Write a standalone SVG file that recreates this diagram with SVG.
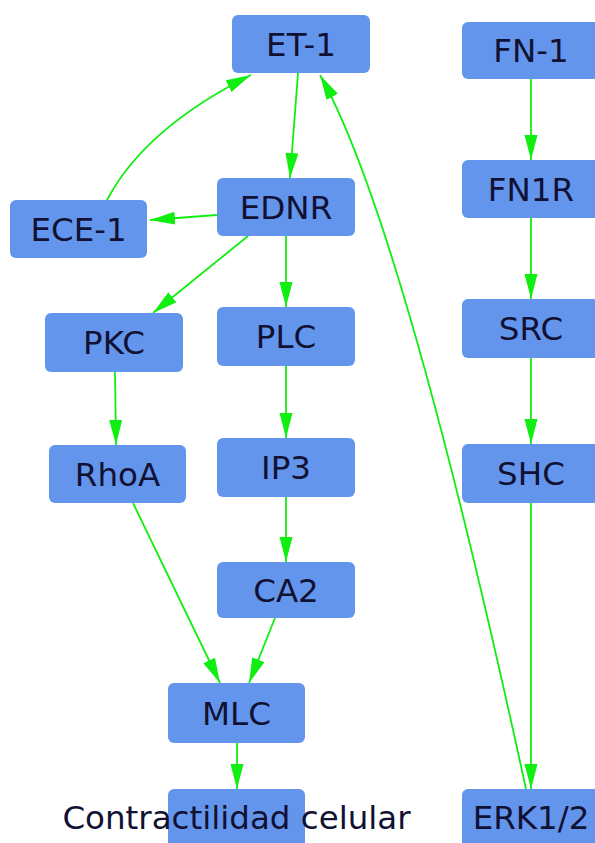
<svg xmlns="http://www.w3.org/2000/svg" width="595" height="843" viewBox="0 0 595 843">
<defs>
<style>
.n rect{fill:#6495ED;}
.n text{font-family:"DejaVu Sans",Verdana,sans-serif;font-size:32.5px;fill:#111133;text-anchor:middle;}
.e path{fill:none;stroke:#11EE11;stroke-width:1.8;marker-end:url(#ah);}
</style>
<marker id="ah" markerUnits="userSpaceOnUse" markerWidth="26" markerHeight="14" refX="25" refY="6.5" orient="auto">
<polygon points="0,0 25,6.5 0,13" fill="#11EE11"/>
</marker>
</defs>
<rect width="595" height="843" fill="#FFFFFF"/>
<g id="edges" class="e">
<path d="M298,73 L290,178"/>
<path d="M217,215 L150,220"/>
<path d="M107,200 Q145,128 251,75"/>
<path d="M248,236 L153,313"/>
<path d="M286,236 L286,307"/>
<path d="M115,372 L116,445"/>
<path d="M286,366 L286,438"/>
<path d="M286,497 L286,562"/>
<path d="M133,503 L220,683"/>
<path d="M275,618 L249,683"/>
<path d="M237,743 L237,789"/>
<path d="M531,79 L531,160"/>
<path d="M531,218 L531,299"/>
<path d="M531,358 L531,444"/>
<path d="M531,503 L531,789"/>
<path d="M526,789 Q403,223 320,75"/>
</g>
<g id="ET-1" class="n"><rect x="232" y="15" width="138" height="58" rx="6"/><text x="301" y="55.5">ET-1</text></g>
<g id="FN-1" class="n"><rect x="462" y="22" width="138" height="57" rx="6"/><text x="531" y="62">FN-1</text></g>
<g id="EDNR" class="n"><rect x="217" y="178" width="138" height="58" rx="6"/><text x="286" y="218.5">EDNR</text></g>
<g id="ECE-1" class="n"><rect x="10" y="200" width="137" height="58" rx="6"/><text x="78.5" y="240.5">ECE-1</text></g>
<g id="FN1R" class="n"><rect x="462" y="160" width="138" height="58" rx="6"/><text x="531" y="200.5">FN1R</text></g>
<g id="PKC" class="n"><rect x="45" y="313" width="138" height="59" rx="6"/><text x="114" y="354">PKC</text></g>
<g id="PLC" class="n"><rect x="217" y="307" width="138" height="59" rx="6"/><text x="286" y="348">PLC</text></g>
<g id="SRC" class="n"><rect x="462" y="299" width="138" height="59" rx="6"/><text x="531" y="340">SRC</text></g>
<g id="RhoA" class="n"><rect x="49" y="445" width="137" height="58" rx="6"/><text x="117.5" y="485.5">RhoA</text></g>
<g id="IP3" class="n"><rect x="217" y="438" width="138" height="59" rx="6"/><text x="286" y="479">IP3</text></g>
<g id="SHC" class="n"><rect x="462" y="444" width="138" height="59" rx="6"/><text x="531" y="485">SHC</text></g>
<g id="CA2" class="n"><rect x="217" y="562" width="138" height="56" rx="6"/><text x="286" y="601.5">CA2</text></g>
<g id="MLC" class="n"><rect x="168" y="683" width="137" height="60" rx="6"/><text x="236.5" y="724.5">MLC</text></g>
<g id="Contractilidad" class="n"><rect x="168" y="789" width="137" height="60" rx="6"/><text x="236.5" y="829">Contractilidad celular</text></g>
<g id="ERK12" class="n"><rect x="462" y="789" width="138" height="60" rx="6"/><text x="531" y="829">ERK1/2</text></g>
</svg>
